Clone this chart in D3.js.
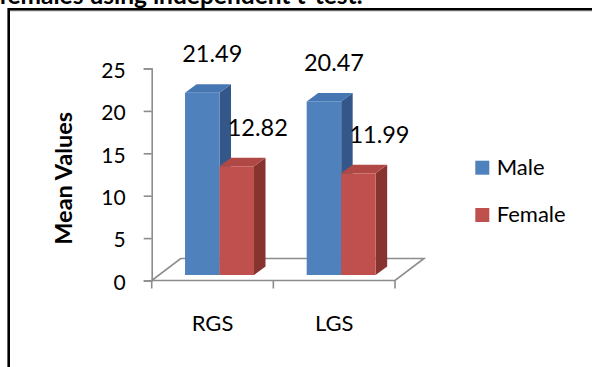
<!DOCTYPE html>
<html>
<head>
<meta charset="utf-8">
<script src="https://cdn.jsdelivr.net/npm/d3@7"></script>
<style>
  html, body { margin: 0; padding: 0; background: #fff; }
  svg { display: block; }
  text { font-family: Lato, "Open Sans", sans-serif; fill: #000; }
</style>
</head>
<body>
<svg id="chart" width="592" height="367"></svg>
<script>
// Mean values by group and sex
const categories = ["RGS", "LGS"];
const seriesNames = ["Male", "Female"];
const maleValues = [21.49, 20.47];
const femaleValues = [12.82, 11.99];
const yTicks = [0, 5, 10, 15, 20, 25];
const titleText = "females using independent t-test.";
const yTitle = "Mean Values";

const seriesValues = [maleValues, femaleValues];
const frontColors = ["#4F81BD", "#C0504D"];
const topColors = ["#4677B2", "#B04845"];
const sideColors = ["#34578A", "#87332F"];

const svg = d3.select("#chart");

// caption above the frame (only its lower edge falls inside the page)
svg.append("text")
  .attr("x", -1).attr("y", 4)
  .attr("font-size", 24.5).attr("font-weight", "bold")
  .text(titleText);

// frame around the chart
svg.append("line").attr("x1", 9).attr("x2", 620).attr("y1", 10.8).attr("y2", 10.8)
  .attr("stroke", "#bdbdbd").attr("stroke-width", 1.2);
svg.append("path")
  .attr("d", "M8.7,400 L8.7,9.2 L620,9.2")
  .attr("fill", "none").attr("stroke", "#000").attr("stroke-width", 2.6);

// scales
const y = d3.scaleLinear().domain([0, 25]).range([280.5, 68.5]);
const x = d3.scaleBand().domain(categories).range([151.7, 395]);

// 3D projection offsets
const floorDepth = { dx: 29, dy: -22 };
const barInset = { dx: 7, dy: -5.5 };
const barDepth = { dx: 11.5, dy: -8.5 };
const barWidth = x.bandwidth() * 0.2835;
const groupPad = (x.bandwidth() - barWidth * seriesNames.length) / 2;

const axisColor = "#8c8c8c";

// floor
const x0 = x.range()[0], x1 = x.range()[1], y0 = y(0);
svg.append("path")
  .attr("d", `M${x0},${y0} L${x1},${y0} L${x1 + floorDepth.dx},${y0 + floorDepth.dy} L${x0 + floorDepth.dx},${y0 + floorDepth.dy} Z`)
  .attr("fill", "none").attr("stroke", axisColor).attr("stroke-width", 1.6);

// value axis
const yAxis = d3.axisLeft(y).tickValues(yTicks).tickSize(8).tickPadding(18);
const gy = svg.append("g").attr("transform", `translate(${x0},0)`).call(yAxis);
gy.select(".domain").attr("stroke", axisColor).attr("stroke-width", 1.6);
gy.selectAll(".tick line").attr("stroke", axisColor).attr("stroke-width", 1.6);
gy.selectAll(".tick text").attr("font-size", 21).attr("dy", "0.42em")
  .attr("font-family", "Lato, sans-serif").attr("fill", "#000");
gy.attr("font-family", null).attr("font-size", null);

// category axis ticks at band edges
const edges = categories.map(c => x(c)).concat([x1]);
svg.append("g").selectAll("line").data(edges).join("line")
  .attr("x1", d => d).attr("x2", d => d)
  .attr("y1", y0).attr("y2", y0 + 8)
  .attr("stroke", axisColor).attr("stroke-width", 1.6);

svg.append("g").selectAll("text").data(categories).join("text")
  .attr("x", c => x(c) + x.bandwidth() / 2)
  .attr("y", y0 + 50.5)
  .attr("text-anchor", "middle")
  .attr("font-size", 22)
  .text(c => c);

// bars
const bars = [];
categories.forEach((c, ci) => {
  seriesNames.forEach((s, si) => {
    const v = seriesValues[si][ci];
    const left = x(c) + barInset.dx + groupPad + si * barWidth;
    const base = y(0) + barInset.dy;
    const top = base - (y(0) - y(v));
    bars.push({ c, si, v, left, right: left + barWidth, base, top });
  });
});

const gBars = svg.append("g");
bars.forEach(b => {
  const g = gBars.append("g");
  const dx = barDepth.dx, dy = barDepth.dy;
  // side face
  g.append("path")
    .attr("d", `M${b.right},${b.base} L${b.right + dx},${b.base + dy} L${b.right + dx},${b.top + dy} L${b.right},${b.top} Z`)
    .attr("fill", sideColors[b.si]);
  // top face
  g.append("path")
    .attr("d", `M${b.left},${b.top} L${b.left + dx},${b.top + dy} L${b.right + dx},${b.top + dy} L${b.right},${b.top} Z`)
    .attr("fill", topColors[b.si]);
  // front face
  g.append("rect")
    .attr("x", b.left).attr("y", b.top)
    .attr("width", barWidth).attr("height", b.base - b.top)
    .attr("fill", frontColors[b.si]);
});

// value labels
const labelShift = [10, 21];
svg.append("g").selectAll("text").data(bars).join("text")
  .attr("x", b => b.left + barWidth / 2 + labelShift[b.si])
  .attr("y", b => b.top - 30.5)
  .attr("text-anchor", "middle")
  .attr("font-size", 23.5)
  .text(b => b.v.toFixed(2));

// axis title
svg.append("text")
  .attr("transform", "translate(71.7,178.3) rotate(-90)")
  .attr("text-anchor", "middle")
  .attr("font-size", 23.5).attr("font-weight", "bold")
  .text(yTitle);

// legend
const legend = svg.append("g").selectAll("g").data(seriesNames).join("g")
  .attr("transform", (d, i) => `translate(475.3,${160.7 + i * 47.3})`);
legend.append("rect").attr("width", 14).attr("height", 14)
  .attr("fill", (d, i) => frontColors[i]);
legend.append("text").attr("x", 21.4).attr("y", 14.3)
  .attr("font-size", 22)
  .text(d => d);
</script>
</body>
</html>
